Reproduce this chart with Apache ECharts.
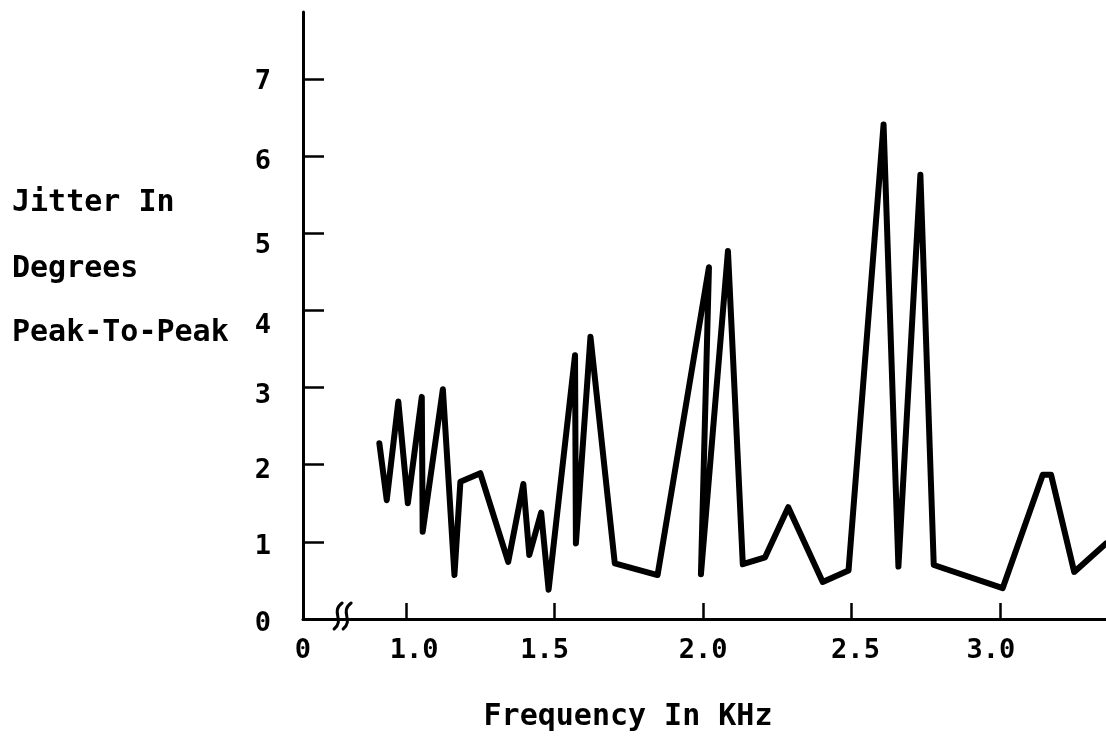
<!DOCTYPE html>
<html>
<head>
<meta charset="utf-8">
<script src="https://cdn.jsdelivr.net/npm/echarts@6/dist/echarts.min.js"></script>
<style>
html,body{margin:0;padding:0;background:#fff;}
#chart{width:1106px;height:736px;}
</style>
</head>
<body>
<div id="chart"></div>
<script>
// ---- data ----
const frequencyKHz = [0.910, 0.935, 0.974, 1.006, 1.053, 1.056, 1.124, 1.163, 1.183, 1.250,
  1.344, 1.395, 1.415, 1.455, 1.480, 1.569, 1.572, 1.621, 1.703, 1.847,
  2.020, 1.993, 2.084, 2.134, 2.209, 2.287, 2.403, 2.490, 2.608, 2.658,
  2.732, 2.777, 3.009, 3.144, 3.172, 3.250, 3.357];
const jitterDeg = [2.28, 1.54, 2.82, 1.50, 2.88, 1.13, 2.98, 0.57, 1.78, 1.89,
  0.74, 1.75, 0.83, 1.38, 0.38, 3.42, 0.98, 3.66, 0.72, 0.57,
  4.56, 0.58, 4.77, 0.71, 0.80, 1.45, 0.48, 0.63, 6.41, 0.68,
  5.76, 0.70, 0.40, 1.87, 1.87, 0.61, 0.98];
const xTickValues = [1.0, 1.5, 2.0, 2.5, 3.0];
const xTickLabels = ['1.0', '1.5', '2.0', '2.5', '3.0'];
const yTickValues = [0, 1, 2, 3, 4, 5, 6, 7];
const yTickLabels = ['0', '1', '2', '3', '4', '5', '6', '7'];
const xOriginLabel = '0';
const yTitleLines = ['Jitter In', 'Degrees', 'Peak-To-Peak'];
const xTitle = 'Frequency In KHz';

// ---- layout (hand-typed label placement of the original) ----
const xLabelShift = [8, -10, 0, 4, -9];          // px, per x tick label
const yLabelShift = [5, 5, 6, 8, 15, 13, 6, 3];  // px down, per y tick label

const xMin = 0.653, xMax = 3.357, yMin = 0, yMax = 7.87;
const FONT = "'DejaVu Sans Mono', 'Liberation Mono', monospace";
const LABEL_SIZE = 27;

const chart = echarts.init(document.getElementById('chart'), null, {renderer: 'canvas'});

const xRich = {o: {fontFamily: FONT, fontWeight: 'bold', fontSize: LABEL_SIZE, color: '#000'}};
xLabelShift.forEach((s, i) => {
  xRich['x' + i] = {fontFamily: FONT, fontWeight: 'bold', fontSize: LABEL_SIZE, color: '#000',
    padding: s >= 0 ? [0, 0, 0, 2 * s] : [0, -2 * s, 0, 0]};
});
const yRich = {};
yLabelShift.forEach((s, i) => {
  yRich['y' + i] = {fontFamily: FONT, fontWeight: 'bold', fontSize: LABEL_SIZE, color: '#000',
    padding: [2 * s, 0, 0, 0]};
});

const option = {
  animation: false,
  backgroundColor: '#ffffff',
  grid: {left: 303, right: 0, top: 12, bottom: 117, containLabel: false},
  xAxis: {
    type: 'value', min: xMin, max: xMax,
    axisLine: {show: true, onZero: false, lineStyle: {color: '#000', width: 3}},
    axisTick: {show: true, inside: true, length: 16, customValues: xTickValues,
      lineStyle: {color: '#000', width: 2.5}},
    axisLabel: {
      show: true, customValues: [xMin].concat(xTickValues), margin: 18,
      color: '#000', fontFamily: FONT, fontWeight: 'bold', fontSize: LABEL_SIZE,
      rich: xRich,
      formatter: function (v) {
        if (Math.abs(v - xMin) < 1e-6) return '{o|' + xOriginLabel + '}';
        const i = xTickValues.findIndex(t => Math.abs(t - v) < 1e-6);
        return i >= 0 ? '{x' + i + '|' + xTickLabels[i] + '}' : '';
      }
    },
    splitLine: {show: false}
  },
  yAxis: {
    type: 'value', min: yMin, max: yMax,
    axisLine: {show: true, lineStyle: {color: '#000', width: 3}},
    axisTick: {show: true, inside: true, length: 21, customValues: yTickValues.slice(1),
      lineStyle: {color: '#000', width: 2.5}},
    axisLabel: {
      show: true, customValues: yTickValues, margin: 32,
      color: '#000', fontFamily: FONT, fontWeight: 'bold', fontSize: LABEL_SIZE,
      rich: yRich,
      formatter: function (v) {
        const i = yTickValues.findIndex(t => Math.abs(t - v) < 1e-6);
        return i >= 0 ? '{y' + i + '|' + yTickLabels[i] + '}' : '';
      }
    },
    splitLine: {show: false}
  },
  series: [{
    type: 'line',
    data: frequencyKHz.map((f, i) => [f, jitterDeg[i]]),
    showSymbol: false,
    symbol: 'none',
    silent: true,
    clip: true,
    lineStyle: {color: '#000', width: 6, join: 'round', cap: 'round'}
  }]
};
chart.setOption(option);

// decorations: axis titles and the axis-break squiggle
const origin = chart.convertToPixel({gridIndex: 0}, [xMin, 0]);
const oneK = chart.convertToPixel({gridIndex: 0}, [1.0, 0]);
const bx = origin[0] + (oneK[0] - origin[0]) * 0.37;
const by = origin[1];
function squiggle(cx) {
  return {
    type: 'bezierCurve',
    shape: {x1: cx + 5, y1: by - 16, cpx1: cx - 7, cpy1: by - 7, cpx2: cx + 8, cpy2: by + 1, x2: cx - 3, y2: by + 10},
    style: {stroke: '#000', lineWidth: 3, fill: null, lineCap: 'round'}
  };
}
const yTitleY = [203, 269, 333];
const graphics = yTitleLines.map((t, i) => ({
  type: 'text', x: 12, y: yTitleY[i],
  style: {text: t, fill: '#000', font: "bold 30px " + FONT, textAlign: 'left', textVerticalAlign: 'middle'}
}));
graphics.push({
  type: 'text', x: 628, y: 717,
  style: {text: xTitle, fill: '#000', font: "bold 30px " + FONT, textAlign: 'center', textVerticalAlign: 'middle'}
});
graphics.push(squiggle(bx - 4));
graphics.push(squiggle(bx + 5));
chart.setOption({graphic: graphics});
</script>
</body>
</html>
